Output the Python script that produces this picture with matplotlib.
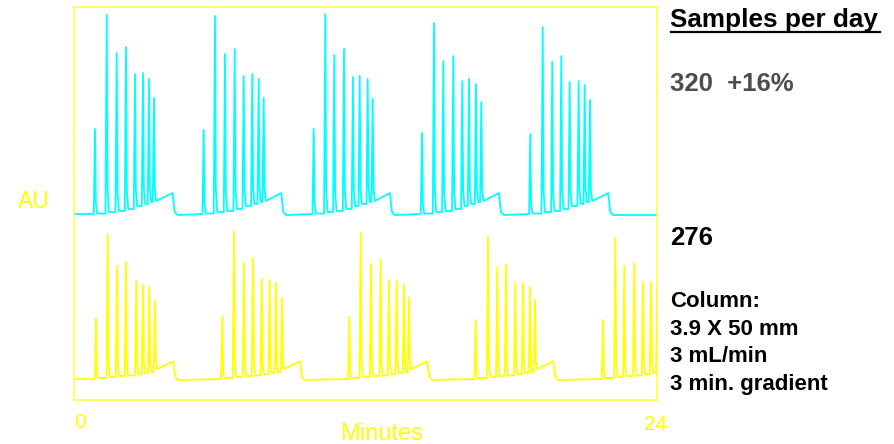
import matplotlib
matplotlib.use("Agg")
import matplotlib.pyplot as plt
from matplotlib.lines import Line2D

# ---- data (minutes, signal above each trace's baseline) ----
# upper trace (cyan): 5 injections, 8 peaks each
top_peak_times = [
    [0.864, 1.346, 1.758, 2.141, 2.511, 2.840, 3.087, 3.293],
    [5.339, 5.804, 6.216, 6.615, 6.986, 7.340, 7.603, 7.809],
    [9.868, 10.345, 10.716, 11.115, 11.485, 11.761, 12.090, 12.296],
    [14.326, 14.820, 15.203, 15.614, 15.985, 16.261, 16.549, 16.767],
    [18.784, 19.295, 19.690, 20.061, 20.406, 20.776, 21.024, 21.242],
]
top_peak_heights = [
    [85, 199, 161, 167, 140, 141, 135, 116],
    [84, 198, 160, 165, 138, 140, 135, 116],
    [85, 200, 159, 165, 137, 138, 135, 115],
    [81, 191, 153, 158, 133, 135, 130, 112],
    [80, 187, 152, 158, 132, 133, 129, 114],
]
top_step_times = [4.063, 8.534, 13.008, 17.495, 21.995]
top_feet = [0.5, 2, 3, 5, 8, 10, 12, 13]   # baseline level after each peak
top_step_level = 21

# lower trace (yellow): 4 full injections + the start of a fifth
bot_peak_times = [
    [0.906, 1.387, 1.770, 2.141, 2.565, 2.840, 3.100, 3.334],
    [6.105, 6.587, 6.998, 7.369, 7.727, 8.056, 8.316, 8.563],
    [11.333, 11.802, 12.226, 12.625, 12.967, 13.284, 13.585, 13.791],
    [16.536, 17.043, 17.426, 17.784, 18.167, 18.484, 18.772, 18.978],
    [21.777, 22.283, 22.654, 23.066, 23.424, 23.753, 24.010],
]
bot_peak_heights = [
    [61, 145, 113, 117, 98, 94, 92, 78],
    [63, 148, 116, 121, 100, 99, 96, 81],
    [62, 146, 115, 120, 99, 98, 95, 81],
    [59, 142, 112, 114, 96, 96, 92, 79],
    [59, 141, 113, 116, 97, 97, 92],
]
bot_step_times = [4.088, 9.304, 14.544, 19.731]
bot_feet = [1, 2, 3, 3.5, 4.7, 6, 6.7, 10]
bot_step_level = 17.7

top_offset = 186
bot_offset = 21
run_minutes = 24


def build_trace(times, heights, steps, feet, step_level, offset):
    xs, ys = [0.0], [0.0]
    for c, (tc, hc) in enumerate(zip(times, heights)):
        before = 0.0
        for k, (t, h) in enumerate(zip(tc, hc)):
            xs += [t - 0.05, t, t + 0.035, t + 0.09]
            ys += [before, h, feet[k] + 0.12 * (h - feet[k]), feet[k]]
            before = feet[k]
        if c < len(steps):
            s = steps[c]
            xs += [s, s + 0.08, s + 0.2]
            ys += [step_level, 2, -1]
    xs.append(run_minutes + 0.5)
    ys.append(ys[-1])
    return xs, [y + offset for y in ys]


fig = plt.figure(figsize=(8.94, 4.44), dpi=100)
ax = fig.add_axes([74 / 894, 44 / 444, 583 / 894, 393 / 444])

x1, y1 = build_trace(top_peak_times, top_peak_heights, top_step_times,
                     top_feet, top_step_level, top_offset)
x2, y2 = build_trace(bot_peak_times, bot_peak_heights, bot_step_times,
                     bot_feet, bot_step_level, bot_offset)
ax.plot(x1, y1, color="#00ffff", lw=1.3)
ax.plot(x2, y2, color="#ffff00", lw=1.3)

ax.set_xlim(0, run_minutes)
ax.set_ylim(0, 393)
ax.set_xticks([])
ax.set_yticks([])
for sp in ax.spines.values():
    sp.set_color("#ffff33")
    sp.set_linewidth(1.1)

font = "Liberation Sans"
yel = "#ffff00"


def ftext(x, y, s, **kw):
    fig.text(x / 894, 1 - y / 444, s, family=font, va="baseline", **kw)


ftext(18, 208, "AU", color=yel, fontsize=16.5)
ftext(74, 428, "0", color=yel, fontsize=15)
ftext(644, 430, str(run_minutes), color=yel, fontsize=15)
ftext(340, 440, "Minutes", color=yel, fontsize=17)

ftext(670, 27, "Samples per day", color="black", fontsize=18.8, weight="bold")
fig.add_artist(Line2D([671 / 894, 880 / 894], [1 - 32 / 444, 1 - 32 / 444],
                      color="black", lw=1.6))
ftext(670, 91, "320  +16%", color="#4d4d4d", fontsize=18.5, weight="bold")
ftext(670, 245, "276", color="black", fontsize=18.5, weight="bold")

info = ["Column:", "3.9 X 50 mm", "3 mL/min", "3 min. gradient"]
for i, line in enumerate(info):
    ftext(670, 307 + 27.7 * i, line, color="black", fontsize=16, weight="bold")

fig.savefig("out.png", dpi=100, facecolor="white")
